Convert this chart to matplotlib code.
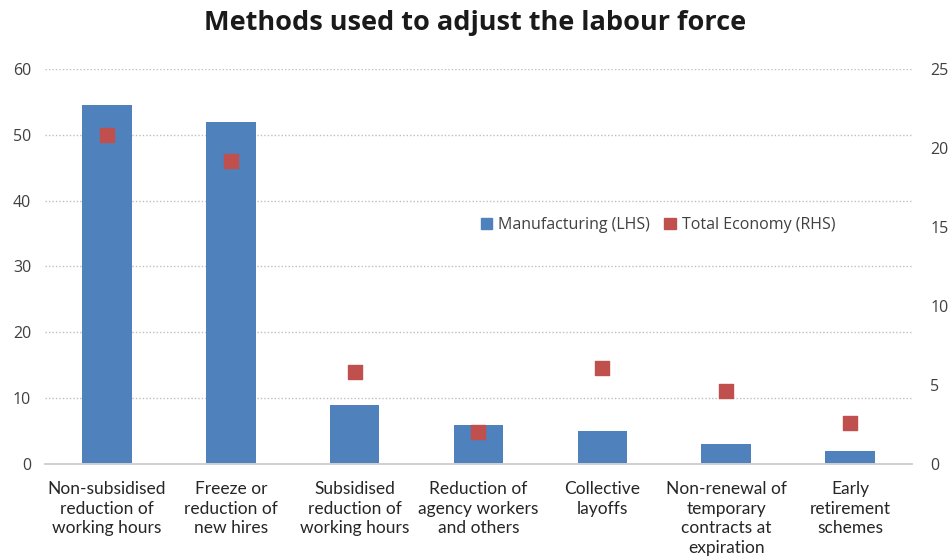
import matplotlib
matplotlib.use("Agg")
import matplotlib.pyplot as plt
from matplotlib.patches import Patch
import numpy as np

categories = [
    "Non-subsidised\nreduction of\nworking hours",
    "Freeze or\nreduction of\nnew hires",
    "Subsidised\nreduction of\nworking hours",
    "Reduction of\nagency workers\nand others",
    "Collective\nlayoffs",
    "Non-renewal of\ntemporary\ncontracts at\nexpiration",
    "Early\nretirement\nschemes",
]
manufacturing = [54.5, 52.0, 9.0, 5.9, 5.0, 3.0, 2.0]
total_economy = [20.8, 19.2, 5.8, 2.0, 6.1, 4.6, 2.6]
left_ticks = [0, 10, 20, 30, 40, 50, 60]
right_ticks = [0, 5, 10, 15, 20, 25]

blue = "#4F81BD"
red = "#C0504D"
text_col = "#404040"

fig = plt.figure(figsize=(9.51, 5.59), dpi=100)
ax = fig.add_axes([0.0473, 0.170, 0.9117, 0.7066])
ax2 = ax.twinx()

x = np.arange(len(categories))
ax.bar(x, manufacturing, width=0.4, color=blue, zorder=2)
ax2.scatter(x, total_economy, marker="s", s=105, color=red, zorder=3)

ax.set_xlim(-0.5, len(categories) - 0.5)
ax.set_ylim(0, 60)
ax2.set_ylim(0, 25)
ax.set_yticks(left_ticks)
ax2.set_yticks(right_ticks)

ax.grid(axis="y", linestyle=(0, (1, 1.5)), color="#BFBFBF", linewidth=1.0, zorder=0)
ax.set_axisbelow(True)
ax2.set_zorder(ax.get_zorder() + 1)
ax2.patch.set_visible(False)

for a in (ax, ax2):
    for side in ("top", "left", "right"):
        a.spines[side].set_visible(False)
    a.spines["bottom"].set_color("#D0D0D0")
    a.spines["bottom"].set_linewidth(1.2)
    a.tick_params(length=0, labelsize=11.5, labelcolor=text_col)

ax.tick_params(axis="y", pad=10)
ax2.tick_params(axis="y", pad=13)
for lab in ax.get_yticklabels() + ax2.get_yticklabels():
    lab.set_fontfamily("Open Sans")

ax.set_xticks(x)
ax.set_xticklabels(categories, fontsize=12.5, family="Lato",
                   color="#262626", linespacing=1.3)
ax.tick_params(axis="x", pad=12)

fig.text(0.5, 0.958, "Methods used to adjust the labour force", ha="center", va="center",
         fontsize=19.5, fontweight="bold", family="Open Sans", color="#1a1a1a")

handles = [Patch(color=blue, label="Manufacturing (LHS)"),
           Patch(color=red, label="Total Economy (RHS)")]
fig.legend(handles=handles, loc="center", bbox_to_anchor=(0.692, 0.598), ncol=2, frameon=False,
           handlelength=0.7, handleheight=0.7, handletextpad=0.4, columnspacing=0.9,
           prop={"family": "Open Sans", "size": 11.5}, labelcolor=text_col)

fig.savefig("out.png", dpi=100)
